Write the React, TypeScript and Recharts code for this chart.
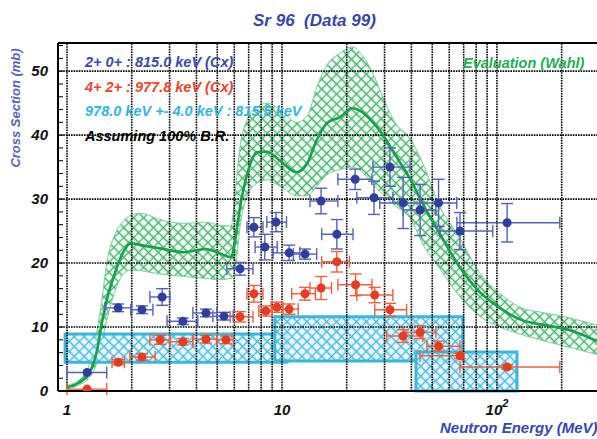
import React from 'react';
import {
  ComposedChart, XAxis, YAxis, Area, Line, Scatter, ErrorBar,
  ReferenceLine, ReferenceArea
} from 'recharts';

const FONT = '"Liberation Sans", Arial, Helvetica, sans-serif';

// axis ranges (MeV, mb)
const X_MIN = 0.908;
const X_MAX = 292;
const Y_MAX = 54.4;

// Wahl evaluation: central curve and uncertainty band
const evalEnergy = [1.0, 1.15, 1.28, 1.38, 1.45, 1.53, 1.67, 1.82, 1.98, 2.2, 2.7, 3.5, 4.4, 5.15, 5.8, 6.05, 6.4, 6.9, 7.65, 8.5, 9.8, 11.7, 13.1, 14.5, 16.2, 18.6, 21.2, 23.6, 26.2, 29.2, 33.5, 39.4, 46, 54, 67, 83, 103, 128, 167, 219, 292];
const evalCenter = [0.6, 1.4, 3.0, 6.4, 10.5, 14.2, 18.4, 21.6, 23.1, 22.8, 22.3, 21.7, 22.2, 21.5, 20.9, 23.5, 29, 34, 37.3, 37.4, 36, 34.2, 35.6, 39.2, 41.9, 42.8, 44.2, 43.6, 42.2, 40.2, 37, 33.2, 28.8, 24.7, 19.4, 15.5, 13.0, 11.2, 10.3, 9.5, 7.8];
const evalLow = [0.3, 1.0, 2.2, 4.5, 7.5, 11.0, 15.5, 18.2, 18.9, 18.8, 18.3, 17.9, 17.6, 17.4, 17.6, 19, 26, 30.5, 32.5, 33, 32, 30.5, 30.5, 32, 33.8, 34.6, 35, 34.2, 32.5, 30.8, 29, 27, 22.5, 19.2, 14.8, 11.7, 10.0, 8.9, 7.8, 6.8, 5.7];
const evalHigh = [0.9, 1.9, 4.5, 9.5, 14, 20, 24.5, 26.5, 27.5, 27.8, 26.8, 26.2, 26.4, 25.9, 25.8, 31, 38.5, 42.5, 44.4, 45, 44, 42, 43, 47.5, 51, 52.8, 53.8, 52.5, 50, 46.3, 42, 39.5, 35, 29, 24, 18.5, 15.3, 13.1, 12.2, 11.4, 10.3];

// 2+ -> 0+ : 815.0 keV
const gsEnergy = [1.24, 1.73, 2.23, 2.77, 3.46, 4.43, 5.37, 6.38, 7.4, 8.32, 9.38, 10.8, 12.8, 15.2, 18.0, 21.9, 26.8, 31.8, 36.6, 43.9, 53.5, 67.3, 111.5];
const gsValue = [2.9, 13.0, 12.7, 14.7, 10.9, 12.2, 11.7, 19.1, 25.6, 22.5, 26.4, 21.6, 21.4, 29.7, 24.5, 33.1, 30.2, 35.0, 29.4, 28.3, 29.4, 25.0, 26.3];
const gsLow = [1.0, 1.5, 1.98, 2.43, 2.92, 3.85, 4.77, 5.54, 6.87, 7.5, 8.5, 9.1, 11.3, 13.5, 15.3, 18.2, 22.3, 26.5, 28.5, 36.6, 43.9, 54.3, 65.1];
const gsHigh = [1.53, 2.0, 2.51, 3.01, 4.06, 4.98, 5.93, 7.33, 8.16, 9.5, 10.5, 12.1, 14.5, 18.2, 21.4, 26.2, 32.8, 39.4, 43.8, 52, 65, 95.6, 196];
const gsErr = [0, 0.6, 0.6, 1.3, 0.5, 0.6, 0.6, 1.0, 1.5, 2.0, 1.5, 1.2, 0.8, 2.0, 2.3, 1.6, 2.6, 3.0, 4.0, 4.0, 3.7, 2.9, 3.0];

// 4+ -> 2+ : 977.8 keV
const exEnergy = [1.24, 1.73, 2.23, 2.71, 3.46, 4.43, 5.49, 6.38, 7.4, 8.4, 9.47, 10.8, 12.8, 15.2, 18.0, 22.0, 27.0, 31.8, 36.6, 43.9, 53.5, 67.3, 111.5];
const exValue = [0.3, 4.5, 5.3, 8.0, 7.7, 8.1, 8.0, 11.6, 15.2, 12.5, 13.1, 12.8, 15.2, 16.1, 20.2, 16.6, 15.0, 12.7, 8.6, 9.2, 7.0, 5.5, 3.75];
const exLow = [1.0, 1.62, 1.96, 2.43, 3.01, 3.85, 4.98, 5.74, 6.87, 7.8, 8.9, 10.1, 11.1, 13.5, 15.3, 18.2, 22.3, 27.0, 30.7, 36.6, 47.2, 43.9, 67.3];
const exHigh = [1.53, 1.85, 2.57, 3.01, 3.85, 4.98, 5.93, 7.33, 8.16, 9.0, 10.1, 11.9, 14.3, 17.0, 20.6, 26.2, 32.8, 38.0, 45.2, 52, 67.3, 69, 196];
const exErr = [0, 0.4, 0.5, 0.7, 0.5, 0.6, 0.6, 0.8, 1.3, 0.8, 0.8, 0.8, 1.0, 1.8, 1.6, 1.7, 1.2, 1.0, 1.0, 1.0, 0.8, 0.4, 0.3];

// 978.0 keV +- 4.0 keV : 815.5 keV boxes
const boxEnergyFrom = [0.98, 9.26, 42.0];
const boxEnergyTo = [10.55, 69.4, 123.9];
const boxValueFrom = [4.5, 4.7, 0];
const boxValueTo = [8.9, 11.6, 6.1];

const gridX = [1, 2, 3, 4, 5, 6, 7, 8, 9, 10, 20, 30, 40, 50, 60, 70, 80, 90, 100, 200];
const gridY = [10, 20, 30, 40, 50];
const yTicks = [0, 2, 4, 6, 8, 10, 12, 14, 16, 18, 20, 22, 24, 26, 28, 30, 32, 34, 36, 38, 40, 42, 44, 46, 48, 50, 52, 54];
const xTicks = [1, 10, 100];

const evalData = evalEnergy.map((e, i) => ({
  e,
  center: evalCenter[i],
  band: [evalLow[i], evalHigh[i]],
}));

const toPoints = (en: number[], val: number[], lo: number[], hi: number[], err: number[]) =>
  en.map((e, i) => ({ e, v: val[i], ex: [e - lo[i], hi[i] - e], ey: err[i] }));

const gsData = toPoints(gsEnergy, gsValue, gsLow, gsHigh, gsErr);
const exData = toPoints(exEnergy, exValue, exLow, exHigh, exErr);

const BLUE = '#2f3f9f';
const BLUE_BAR = '#5562b4';
const RED = '#e63d22';
const RED_BAR = '#ee6040';
const CYAN = '#3bb7da';
const GREEN = '#17a04a';

const EnergyTick = (props: any) => {
  const { x, y, payload } = props;
  const style = { fontFamily: FONT, fontWeight: 700, fontStyle: 'italic' as const, fontSize: 15, fill: '#111' };
  if (payload.value === 100) {
    return (
      <text x={x} y={y + 16} textAnchor="middle" style={style}>
        <tspan>10</tspan>
        <tspan dy={-8} fontSize={11}>2</tspan>
      </text>
    );
  }
  return (
    <text x={x} y={y + 16} textAnchor="middle" style={style}>{payload.value}</text>
  );
};

const textBase: React.CSSProperties = {
  position: 'absolute',
  fontFamily: FONT,
  fontWeight: 700,
  fontStyle: 'italic',
  whiteSpace: 'pre',
  lineHeight: 1,
};

export default function App() {
  return (
    <div style={{ position: 'absolute', left: 0, top: 0, width: 597, height: 439, background: '#fff', overflow: 'hidden' }}>
      <ComposedChart width={597} height={439} data={evalData} margin={{ top: 43, right: 0, bottom: 0, left: 0 }}>
        <defs>
          <pattern id="greenHatch" width="7" height="7" patternUnits="userSpaceOnUse" patternTransform="rotate(45)">
            <rect width="7" height="7" fill="#eef9f1" fillOpacity={0.7} />
            <path d="M0 3.5H7M3.5 0V7" stroke="#45b46c" strokeWidth={1.3} />
          </pattern>
          <pattern id="cyanHatch" width="7" height="7" patternUnits="userSpaceOnUse" patternTransform="rotate(45)">
            <rect width="7" height="7" fill="#e4f5fb" fillOpacity={0.8} />
            <path d="M0 3.5H7M3.5 0V7" stroke="#45b9dc" strokeWidth={1.3} />
          </pattern>
        </defs>

        <XAxis
          dataKey="e"
          type="number"
          scale="log"
          domain={[X_MIN, X_MAX]}
          allowDataOverflow
          ticks={xTicks}
          tick={<EnergyTick />}
          tickLine={false}
          height={48}
          axisLine={{ stroke: '#000', strokeWidth: 2 }}
        />
        <YAxis
          type="number"
          domain={[0, Y_MAX]}
          allowDataOverflow
          ticks={yTicks}
          interval={0}
          width={58}
          tickSize={-5}
          tickMargin={15}
          tickFormatter={(v: number) => (v % 10 === 0 ? String(v) : '')}
          tick={{ fontFamily: FONT, fontWeight: 700, fontStyle: 'italic', fontSize: 15, fill: '#111' }}
          tickLine={{ stroke: '#000', strokeWidth: 1 }}
          axisLine={{ stroke: '#000', strokeWidth: 2 }}
        />

        {gridX.map((v) => (
          <ReferenceLine key={`gx-${v}`} x={v} stroke="#000" strokeWidth={1.6} strokeDasharray="1.6 1" />
        ))}
        {gridY.map((v) => (
          <ReferenceLine key={`gy-${v}`} y={v} stroke="#000" strokeWidth={1.6} strokeDasharray="1.6 1" />
        ))}
        <ReferenceLine y={Y_MAX} stroke="#000" strokeWidth={2} />

        <Area
          type="monotone"
          dataKey="band"
          stroke="#7fd09a"
          strokeWidth={1}
          fill="url(#greenHatch)"
          fillOpacity={1}
          isAnimationActive={false}
          activeDot={false}
        />

        {boxEnergyFrom.map((e, i) => (
          <ReferenceArea
            key={`box-${i}`}
            x1={e}
            x2={boxEnergyTo[i]}
            y1={boxValueFrom[i]}
            y2={boxValueTo[i]}
            fill="url(#cyanHatch)"
            fillOpacity={1}
            stroke={CYAN}
            strokeWidth={3}
          />
        ))}

        <Line
          type="monotone"
          dataKey="center"
          stroke={GREEN}
          strokeWidth={2.6}
          dot={false}
          activeDot={false}
          isAnimationActive={false}
        />

        <Scatter data={exData} dataKey="v" fill={RED} isAnimationActive={false}>
          <ErrorBar dataKey="ex" direction="x" stroke={RED_BAR} strokeWidth={1.4} width={6} />
          <ErrorBar dataKey="ey" direction="y" stroke={RED_BAR} strokeWidth={1.4} width={6} />
        </Scatter>
        <Scatter data={gsData} dataKey="v" fill={BLUE} isAnimationActive={false}>
          <ErrorBar dataKey="ex" direction="x" stroke={BLUE_BAR} strokeWidth={1.4} width={6} />
          <ErrorBar dataKey="ey" direction="y" stroke={BLUE_BAR} strokeWidth={1.4} width={6} />
        </Scatter>
      </ComposedChart>

      <div style={{ ...textBase, left: 253, top: 12, fontSize: 17, color: '#3747a3' }}>Sr 96  (Data 99)</div>
      <div
        style={{
          ...textBase,
          left: 15,
          top: 108,
          fontSize: 13,
          color: '#5363b6',
          transform: 'translate(-50%, -50%) rotate(-90deg)',
        }}
      >
        Cross Section (mb)
      </div>
      <div style={{ ...textBase, left: 440, top: 420, fontSize: 15, color: '#3848aa' }}>Neutron Energy (MeV)</div>

      <div style={{ ...textBase, left: 85, top: 55, fontSize: 14.5, color: '#3d4ba8' }}>2+ 0+ : 815.0 keV (Cx)</div>
      <div style={{ ...textBase, left: 85, top: 80, fontSize: 14.5, color: '#e8452d' }}>4+ 2+ : 977.8 keV (Cx)</div>
      <div style={{ ...textBase, left: 85, top: 104, fontSize: 14.5, color: '#33b5dc' }}>978.0 keV +- 4.0 keV : 815.5 keV</div>
      <div style={{ ...textBase, left: 85, top: 129, fontSize: 14.5, color: '#000' }}>Assuming 100% B.R.</div>
      <div style={{ ...textBase, left: 463, top: 56, fontSize: 14.5, color: '#1fae55' }}>Evaluation (Wahl)</div>
    </div>
  );
}
